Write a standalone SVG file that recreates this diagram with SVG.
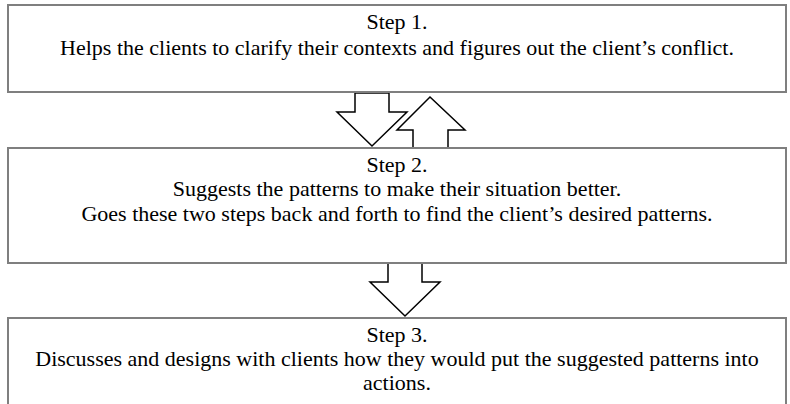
<svg xmlns="http://www.w3.org/2000/svg" width="790" height="404" viewBox="0 0 790 404">
<defs>
<polygon id="downArrow" points="-17,0 17,0 17,19 35,19 0,53 -35,19 -17,19" fill="#ffffff" stroke="#000000" stroke-width="1.5"/>
</defs>
<rect x="0" y="0" width="790" height="404" fill="#ffffff"/>
<g id="connectors">
<use href="#downArrow" x="372" y="93"/>
<polygon points="413,148 448,148 448,130 465,130 430,97 397,130 413,130" fill="#ffffff" stroke="#000000" stroke-width="1.5"/>
<use href="#downArrow" x="405" y="263"/>
</g>
<g id="step1">
<rect x="8" y="5" width="778" height="87" fill="#ffffff" stroke="#7f7f7f" stroke-width="2"/>
<text font-family="Liberation Serif" font-size="22" text-anchor="middle" x="397" y="29">Step 1.</text>
<text font-family="Liberation Serif" font-size="22" text-anchor="middle" x="397" y="55">Helps the clients to clarify their contexts and figures out the client’s conflict.</text>
</g>
<g id="step2">
<rect x="8" y="148" width="778" height="115" fill="#ffffff" stroke="#7f7f7f" stroke-width="2"/>
<text font-family="Liberation Serif" font-size="22" text-anchor="middle" x="397" y="172">Step 2.</text>
<text font-family="Liberation Serif" font-size="22" text-anchor="middle" x="397" y="196">Suggests the patterns to make their situation better.</text>
<text font-family="Liberation Serif" font-size="22" text-anchor="middle" x="397" y="221">Goes these two steps back and forth to find the client’s desired patterns.</text>
</g>
<g id="step3">
<rect x="8" y="318" width="778" height="90" fill="#ffffff" stroke="#7f7f7f" stroke-width="2"/>
<text font-family="Liberation Serif" font-size="22" text-anchor="middle" x="397" y="342">Step 3.</text>
<text font-family="Liberation Serif" font-size="22" text-anchor="middle" x="397" y="366">Discusses and designs with clients how they would put the suggested patterns into</text>
<text font-family="Liberation Serif" font-size="22" text-anchor="middle" x="397" y="390">actions.</text>
</g>
</svg>
